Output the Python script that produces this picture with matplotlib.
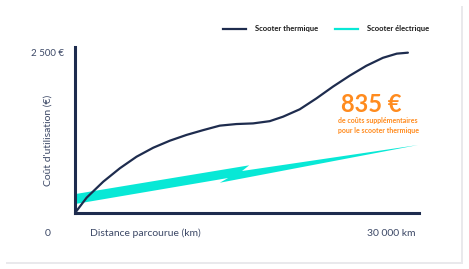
import matplotlib.pyplot as plt
from matplotlib.patches import FancyBboxPatch
from matplotlib.lines import Line2D

# thermal scooter cumulated cost (km, €)
thermique_km = [0, 1050, 2550, 4050, 5550, 7050, 8550, 10050, 11550, 13050, 14550,
                16050, 17550, 18750, 20250, 21750, 23250, 24750, 26250, 27750, 29000, 30000]
thermique_eur = [0, 240, 490, 700, 880, 1020, 1130, 1220, 1295, 1365, 1390,
                 1400, 1435, 1505, 1620, 1790, 1975, 2145, 2300, 2425, 2490, 2505]

# electric scooter drawn as a lightning bolt (outline points)
electrique_km = [0, 15700, 15050, 30900, 13050, 13800, 0]
electrique_eur = [295, 745, 656, 1062, 473, 547, 140]

x_max = 31000
y_max = 2600
surcout = "835 €"

navy = '#1e2c4e'
txt = '#3c4866'
cyan = '#08e8d6'
orange = '#ff8b1e'

plt.rcParams['font.family'] = ['Lato', 'DejaVu Sans']

W, H = 469, 269
fig = plt.figure(figsize=(W / 100, H / 100), dpi=100)
fig.patch.set_facecolor('white')

# card with a faint shadow
shadow = FancyBboxPatch((6 / W, 5 / H), 457 / W, 258 / H, boxstyle='square,pad=0',
                        transform=fig.transFigure, facecolor='#e9e9ec', edgecolor='none', zorder=-2)
card = FancyBboxPatch((4 / W, 7 / H), 457 / W, 258 / H, boxstyle='square,pad=0',
                      transform=fig.transFigure, facecolor='white', edgecolor='none', zorder=-1)
fig.patches.extend([shadow, card])

ax = fig.add_axes([75 / W, 56 / H, 344 / W, 166.4 / H])
ax.set_zorder(1)
ax.patch.set_alpha(0)

ax.fill(electrique_km, electrique_eur, color=cyan, lw=0, zorder=2)
ax.plot(thermique_km, thermique_eur, color=navy, lw=1.6, solid_capstyle='round',
        solid_joinstyle='round', zorder=3)

ax.set_xlim(0, x_max)
ax.set_ylim(0, y_max)
for s in ['top', 'right']:
    ax.spines[s].set_visible(False)
for s in ['left', 'bottom']:
    ax.spines[s].set_color(navy)
    ax.spines[s].set_linewidth(2.2)
ax.set_xticks([])
ax.set_yticks([])

fig.text(64 / W, 1 - 53 / H, "2 500 €", ha='right', va='center', fontsize=7, color=txt)
fig.text(48 / W, 1 - 233 / H, "0", ha='center', va='center', fontsize=7.5, color=txt)
fig.text(90 / W, 1 - 233 / H, "Distance parcourue (km)", ha='left', va='center', fontsize=7.5, color=txt)
fig.text(415 / W, 1 - 233 / H, "30 000 km", ha='right', va='center', fontsize=7.5, color=txt)
fig.text(48 / W, 1 - 140 / H, "Coût d'utilisation (€)", ha='center', va='center',
         rotation=90, fontsize=7.5, color=txt)

fig.text(371 / W, 1 - 104 / H, surcout, ha='center', va='center', fontsize=17,
         color=orange, fontweight='bold')
fig.text(378 / W, 1 - 121 / H, "de coûts supplémentaires", ha='center', va='center',
         fontsize=5, color=orange, fontweight='bold')
fig.text(378 / W, 1 - 130 / H, "pour le scooter thermique", ha='center', va='center',
         fontsize=5, color=orange, fontweight='bold')

handles = [Line2D([], [], color=navy, lw=1.6), Line2D([], [], color=cyan, lw=1.6)]
fig.legend(handles, ["Scooter thermique", "Scooter électrique"], ncol=2, frameon=False,
           loc='center right', bbox_to_anchor=(436 / W, 1 - 29 / H),
           prop={'size': 5.5, 'weight': 'bold'}, handlelength=3, handletextpad=1.2,
           columnspacing=2.2, labelcolor='#1a1a1a')

fig.savefig('out.png', dpi=100)
